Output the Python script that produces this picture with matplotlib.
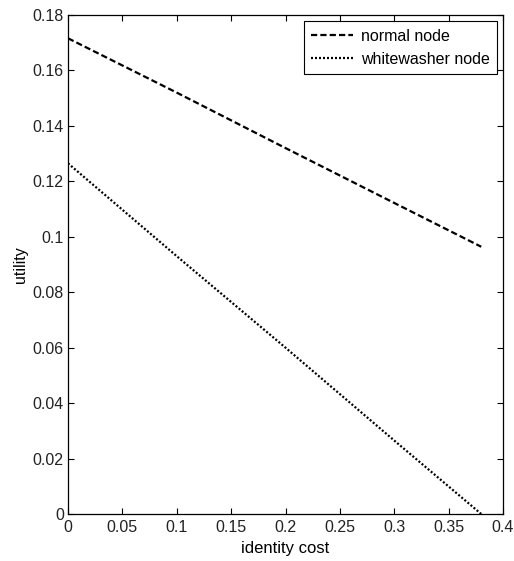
import matplotlib
matplotlib.use('Agg')
import matplotlib.pyplot as plt

# values
identity_cost = [0.0, 0.1, 0.2, 0.3, 0.38]
normal_utility = [0.1716, 0.152, 0.132, 0.1122, 0.0964]
whitewasher_utility = [0.1265, 0.093, 0.060, 0.0265, 0.0]

x_ticks = [0, 0.05, 0.1, 0.15, 0.2, 0.25, 0.3, 0.35, 0.4]
x_tick_labels = ['0', '0.05', '0.1', '0.15', '0.2', '0.25', '0.3', '0.35', '0.4']
y_ticks = [0, 0.02, 0.04, 0.06, 0.08, 0.1, 0.12, 0.14, 0.16, 0.18]
y_tick_labels = ['0', '0.02', '0.04', '0.06', '0.08', '0.1', '0.12', '0.14', '0.16', '0.18']

plt.rcParams['font.family'] = ['Liberation Sans', 'DejaVu Sans']
plt.rcParams['font.size'] = 11.5

fig = plt.figure(figsize=(5.14, 5.61), dpi=100)
ax = fig.add_axes([68 / 514, 1 - 514 / 561, 435 / 514, 499 / 561])

ax.plot(identity_cost, normal_utility, color='black', lw=1.6,
        linestyle=(0, (2.8, 1.4)), label='normal node')
ax.plot(identity_cost, whitewasher_utility, color='black', lw=1.6,
        linestyle=(0, (0.9, 0.9)), label='whitewasher node')

ax.set_xlim(0, 0.4)
ax.set_ylim(0, 0.18)
ax.set_xticks(x_ticks)
ax.set_xticklabels(x_tick_labels)
ax.set_yticks(y_ticks)
ax.set_yticklabels(y_tick_labels)
ax.tick_params(direction='in', top=True, right=True, length=4,
               labelcolor='#222222')
ax.tick_params(axis='x', pad=4)
ax.tick_params(axis='y', pad=3)
for sp in ax.spines.values():
    sp.set_linewidth(0.9)

ax.set_xlabel('identity cost', fontsize=12, labelpad=5)
ax.set_ylabel('utility', fontsize=11.5, labelpad=3)

leg = ax.legend(loc='upper right', fancybox=False, framealpha=1,
                edgecolor='black', handlelength=2.6, borderaxespad=0.4,
                handletextpad=0.5, borderpad=0.45, labelspacing=0.5)
leg.get_frame().set_linewidth(0.8)

fig.savefig('out.png', dpi=100)
